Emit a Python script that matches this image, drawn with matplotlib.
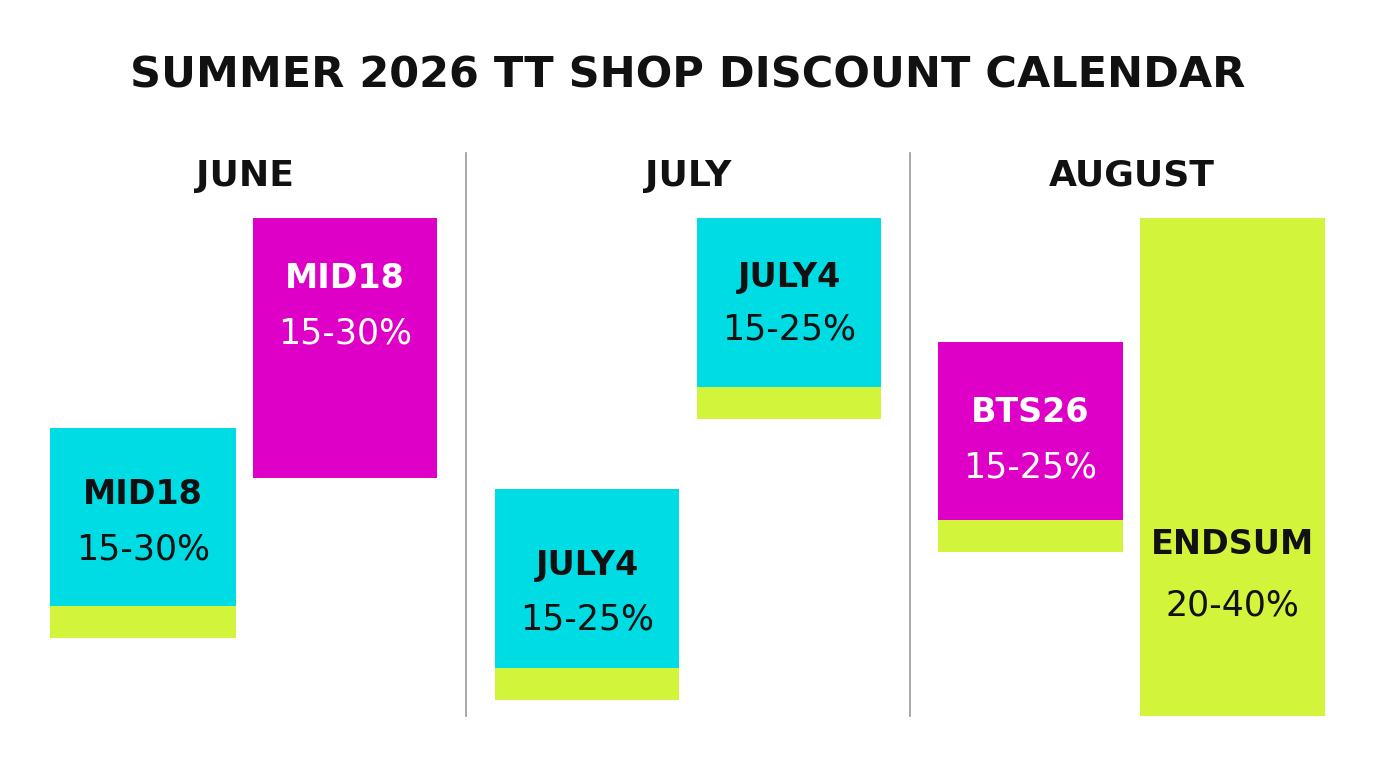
import matplotlib
matplotlib.use("Agg")
import matplotlib.pyplot as plt
from matplotlib.patches import Rectangle

title = "SUMMER 2026 TT SHOP DISCOUNT CALENDAR"
months = ["JUNE", "JULY", "AUGUST"]
codes = ["MID18", "MID18", "JULY4", "JULY4", "BTS26", "ENDSUM"]
ranges = ["15-30%", "15-30%", "15-25%", "15-25%", "15-25%", "20-40%"]
kinds = ["cyan", "magenta", "cyan", "cyan", "magenta", "lime"]
# layout (pixel units)
x0 = [50, 253, 495, 697, 938, 1140]
widths = [186, 184, 184, 184, 185, 185]
tops = [428, 218, 489, 218, 342, 218]
bottoms = [606, 478, 668, 387, 520, 716]
lime_bottoms = [638, 478, 700, 419, 552, 716]
text_y = [(495, 550), (278, 333), (565, 620), (278, 330), (412, 467), (545, 605)]

colors = {"cyan": "#00DCE4", "magenta": "#DE00C6", "lime": "#D2F43A"}
txtcol = {"cyan": "#111111", "magenta": "white", "lime": "#111111"}

fig = plt.figure(figsize=(13.76, 7.68), dpi=100)
ax = fig.add_axes([0, 0, 1, 1])
ax.set_xlim(0, 1376); ax.set_ylim(768, 0); ax.axis("off")

ax.text(688, 75, title, ha="center", va="center", fontsize=31, fontweight="bold", color="#111")
for mx, m in zip([245, 688, 1132], months):
    ax.text(mx, 176, m, ha="center", va="center", fontsize=26, fontweight="bold", color="#111")
for dx in [466, 910]:
    ax.plot([dx, dx], [153, 716], color="#999999", lw=1.2)

for i in range(len(codes)):
    k = kinds[i]
    ax.add_patch(Rectangle((x0[i], tops[i]), widths[i], bottoms[i] - tops[i], color=colors[k], lw=0))
    if lime_bottoms[i] > bottoms[i]:
        ax.add_patch(Rectangle((x0[i], bottoms[i]), widths[i], lime_bottoms[i] - bottoms[i],
                               color=colors["lime"], lw=0))
    cx = x0[i] + widths[i] / 2
    ax.text(cx, text_y[i][0], codes[i], ha="center", va="center", fontsize=24,
            fontweight="bold", color=txtcol[k])
    ax.text(cx, text_y[i][1], ranges[i], ha="center", va="center", fontsize=25,
            color=txtcol[k])

fig.savefig("out.png", dpi=100, facecolor="white")
